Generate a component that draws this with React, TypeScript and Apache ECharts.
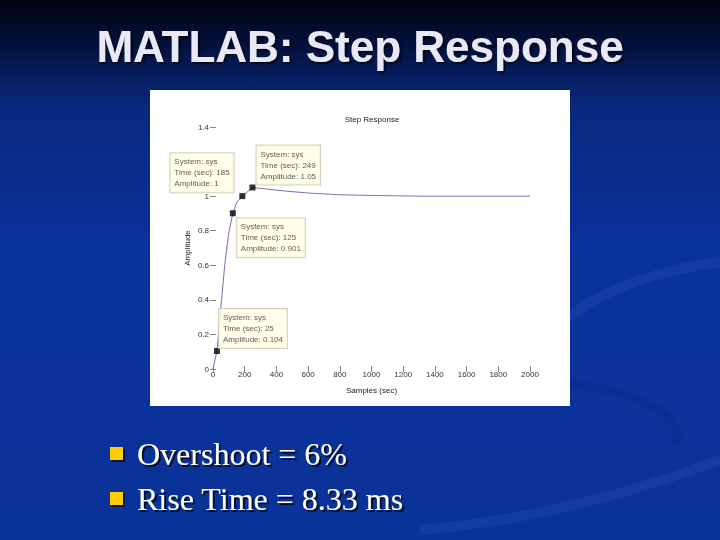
import React, { useEffect, useRef } from "react";
import * as echarts from "echarts";

// ---- data ----
const slideTitle = "MATLAB: Step Response";
const chartTitle = "Step Response";
const xAxisName = "Samples (sec)";
const yAxisName = "Amplitude";
const bullets = ["Overshoot = 6%", "Rise Time = 8.33 ms"];

const times = [0, 25, 50, 75, 100, 125, 150, 185, 249, 350, 450, 600, 800, 1000, 1300, 1600, 2000];
const amps = [0, 0.104, 0.36, 0.61, 0.79, 0.901, 0.965, 1.0, 1.05, 1.04, 1.03, 1.018, 1.008, 1.004, 1.0, 1.0, 1.0];

const tipSystem = "sys";
const tipTimes = [185, 249, 125, 25];
const tipAmps = [1, 1.05, 0.901, 0.104];

const xMin = 0;
const xMax = 2000;
const xStep = 200;
const yMin = 0;
const yMax = 1.4;
const yStep = 0.2;
// tick label hidden behind the first data tip in the reference
const hiddenYLabels = [1.2];

// ---- styles ----
const tipOffsets: [number, number][] = [
  [-69, -40],
  [7, -39],
  [7, 8],
  [5, -39],
];

export default function App() {
  const ref = useRef<HTMLDivElement>(null);

  useEffect(() => {
    const chart = echarts.init(ref.current!, null, { renderer: "svg" });

    const tickStyle = { show: true, inside: true, length: 3, lineStyle: { color: "#888", width: 1 } };

    const option: any = {
      animation: false,
      grid: { left: 213, right: 190, top: 127, bottom: 171, containLabel: false },
      xAxis: [
        {
          type: "value",
          min: xMin,
          max: xMax,
          interval: xStep,
          name: xAxisName,
          nameLocation: "middle",
          nameGap: 17,
          nameTextStyle: { fontSize: 8, color: "#222", fontFamily: "Liberation Sans" },
          axisLine: { show: false },
          axisTick: tickStyle,
          axisLabel: {
            fontSize: 8,
            color: "#333",
            margin: 1,
            fontFamily: "Liberation Sans",
            formatter: (v: number) => String(v),
          },
          splitLine: { show: false },
        },
        {
          type: "value",
          position: "top",
          min: xMin,
          max: xMax,
          interval: xStep,
          axisLine: { show: false },
          axisTick: tickStyle,
          axisLabel: { show: false },
          splitLine: { show: false },
        },
      ],
      yAxis: [
        {
          type: "value",
          min: yMin,
          max: yMax,
          interval: yStep,
          name: yAxisName,
          nameLocation: "middle",
          nameGap: 22,
          nameTextStyle: { fontSize: 8, color: "#222", fontFamily: "Liberation Sans" },
          axisLine: { show: false },
          axisTick: tickStyle,
          axisLabel: {
            fontSize: 8,
            color: "#333",
            margin: 4,
            fontFamily: "Liberation Sans",
            formatter: (v: number) =>
              hiddenYLabels.some((h) => Math.abs(h - v) < 1e-9) ? "" : String(Math.round(v * 10) / 10),
          },
          splitLine: { show: false },
        },
        {
          type: "value",
          position: "right",
          min: yMin,
          max: yMax,
          interval: yStep,
          axisLine: { show: false },
          axisTick: tickStyle,
          axisLabel: { show: false },
          splitLine: { show: false },
        },
      ],
      series: [
        {
          type: "line",
          data: times.map((t, i) => [t, amps[i]]),
          showSymbol: false,
          symbol: "none",
          lineStyle: { color: "#7272b4", width: 1 },
          z: 2,
        },
        {
          type: "scatter",
          symbol: "rect",
          symbolSize: 6,
          itemStyle: { color: "#000" },
          z: 5,
          data: tipTimes.map((t, i) => ({
            value: [t, tipAmps[i]],
            label: { position: tipOffsets[i] },
          })),
          label: {
            show: true,
            formatter: (p: any) =>
              `System: ${tipSystem}\nTime (sec): ${p.value[0]}\nAmplitude: ${p.value[1]}`,
            fontSize: 8,
            lineHeight: 11,
            color: "#333",
            fontFamily: "Liberation Sans",
            align: "left",
            backgroundColor: "#ffffe4",
            borderColor: "#c8c8b0",
            borderWidth: 1,
            padding: [3, 4, 3, 4],
          },
        },
      ],
      graphic: [
        {
          type: "rect",
          z: -10,
          silent: true,
          shape: { x: 0, y: 0, width: 720, height: 540 },
          style: {
            fill: new echarts.graphic.LinearGradient(0, 0, 0, 1, [
              { offset: 0, color: "#010410" },
              { offset: 0.08, color: "#03103a" },
              { offset: 0.2, color: "#09287f" },
              { offset: 0.45, color: "#0a329c" },
              { offset: 1, color: "#0a3399" },
            ]),
          },
        },
        {
          type: "bezierCurve",
          z: -9,
          silent: true,
          shape: { x1: 565, y1: 320, cpx1: 600, cpy1: 290, cpx2: 660, cpy2: 270, x2: 720, y2: 262 },
          style: { stroke: "rgba(90,130,225,0.12)", lineWidth: 10, fill: null },
        },
        {
          type: "bezierCurve",
          z: -9,
          silent: true,
          shape: { x1: 570, y1: 385, cpx1: 640, cpy1: 390, cpx2: 690, cpy2: 420, x2: 675, y2: 445 },
          style: { stroke: "rgba(10,40,130,0.3)", lineWidth: 8, fill: null },
        },
        {
          type: "bezierCurve",
          z: -9,
          silent: true,
          shape: { x1: 420, y1: 530, cpx1: 540, cpy1: 520, cpx2: 640, cpy2: 490, x2: 720, y2: 460 },
          style: { stroke: "rgba(90,130,225,0.12)", lineWidth: 10, fill: null },
        },
        {
          type: "rect",
          z: -8,
          silent: true,
          shape: { x: 150, y: 90, width: 420, height: 316 },
          style: { fill: "#ffffff" },
        },
        {
          type: "text",
          z: 10,
          silent: true,
          x: 360,
          y: 46,
          style: {
            text: slideTitle,
            fill: "#e8e8f6",
            font: "bold 44px 'Liberation Sans', Arial, sans-serif",
            textAlign: "center",
            textVerticalAlign: "middle",
            textShadowColor: "rgba(0,0,0,0.7)",
            textShadowOffsetX: 2,
            textShadowOffsetY: 2,
            textShadowBlur: 2,
          },
        },
        {
          type: "text",
          z: 10,
          silent: true,
          x: 372,
          y: 119,
          style: {
            text: chartTitle,
            fill: "#222",
            font: "8px 'Liberation Sans', Arial, sans-serif",
            textAlign: "center",
            textVerticalAlign: "middle",
          },
        },
        ...bullets.flatMap((b, i) => [
          {
            type: "rect",
            z: 10,
            silent: true,
            shape: { x: 110, y: 447 + i * 45, width: 13, height: 13 },
            style: {
              fill: "#ffcc00",
              shadowColor: "rgba(0,0,0,0.6)",
              shadowOffsetX: 2,
              shadowOffsetY: 2,
              shadowBlur: 1,
            },
          },
          {
            type: "text",
            z: 10,
            silent: true,
            x: 137,
            y: 454 + i * 45,
            style: {
              text: b,
              fill: "#ffffff",
              font: "32px 'Liberation Serif', 'Times New Roman', serif",
              textAlign: "left",
              textVerticalAlign: "middle",
              textShadowColor: "rgba(0,0,0,0.75)",
              textShadowOffsetX: 2,
              textShadowOffsetY: 2,
              textShadowBlur: 1,
            },
          },
        ]),
      ],
    };

    chart.setOption(option);
    return () => chart.dispose();
  }, []);

  return (
    <div
      ref={ref}
      style={{ position: "fixed", left: 0, top: 0, width: 720, height: 540 }}
    />
  );
}
